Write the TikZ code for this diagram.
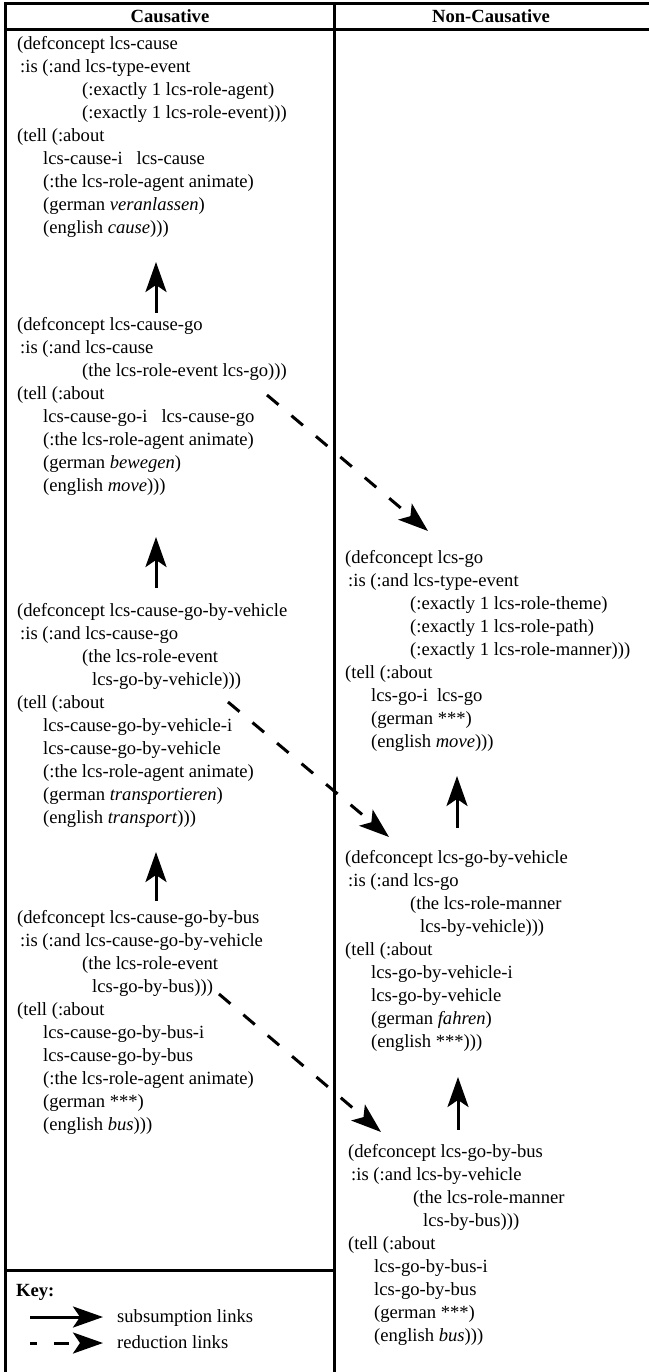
\documentclass[tikz,border=0pt]{standalone}
\usepackage{fontspec}
\setmainfont{Liberation Serif}
\usetikzlibrary{arrows.meta}
\newcommand\IndA{\hspace*{3pt}}
\newcommand\IndB{\hspace*{65pt}}
\newcommand\IndC{\hspace*{75pt}}
\newcommand\IndD{\hspace*{26pt}}
\begin{document}
\begin{tikzpicture}[x=1pt,y=-1pt,
  frame/.style={line width=3pt},
  code/.style={anchor=base west, inner sep=0pt, align=left, font=\fontsize{18.6}{23}\selectfont},
  head/.style={anchor=base, inner sep=0pt, font=\fontsize{18.6}{23}\selectfont\bfseries},
  keytext/.style={anchor=base west, inner sep=0pt, font=\fontsize{18.6}{23}\selectfont},
  sublink/.style={line width=3pt, -{Stealth[length=30pt,width=21pt,inset=7pt]}},
  redlink/.style={line width=3pt, dash pattern=on 15pt off 17pt, -{Stealth[length=30pt,width=21pt,inset=7pt]}}]
\useasboundingbox (0,0) rectangle (649,1372);
% frame
\draw[frame] (649,4) -- (5.5,4) -- (5.5,1372);
\draw[frame] (5.5,30) -- (649,30);
\draw[frame] (334,4) -- (334,1372);
\draw[frame] (5.5,1270) -- (334,1270);
% headers
\node[head] (hc) at (170,23) {Causative};
\node[head] (hn) at (491,23) {Non-Causative};
% left column (anchored at the baseline of the last line)
\node[code] (L1) at (17,234) {(defconcept lcs-cause\\
\IndA:is (:and lcs-type-event\\
\IndB(:exactly 1 lcs-role-agent)\\
\IndB(:exactly 1 lcs-role-event)))\\
(tell (:about\\
\IndD lcs-cause-i\hspace{14pt}lcs-cause\\
\IndD(:the lcs-role-agent animate)\\
\IndD(german \textit{veranlassen})\\
\IndD(english \textit{cause})))};
\node[code] (L2) at (17,491) {(defconcept lcs-cause-go\\
\IndA:is (:and lcs-cause\\
\IndB(the lcs-role-event lcs-go)))\\
(tell (:about\\
\IndD lcs-cause-go-i\hspace{14pt}lcs-cause-go\\
\IndD(:the lcs-role-agent animate)\\
\IndD(german \textit{bewegen})\\
\IndD(english \textit{move})))};
\node[code] (L3) at (17,823) {(defconcept lcs-cause-go-by-vehicle\\
\IndA:is (:and lcs-cause-go\\
\IndB(the lcs-role-event\\
\IndC lcs-go-by-vehicle)))\\
(tell (:about\\
\IndD lcs-cause-go-by-vehicle-i\\
\IndD lcs-cause-go-by-vehicle\\
\IndD(:the lcs-role-agent animate)\\
\IndD(german \textit{transportieren})\\
\IndD(english \textit{transport})))};
\node[code] (L4) at (17,1130) {(defconcept lcs-cause-go-by-bus\\
\IndA:is (:and lcs-cause-go-by-vehicle\\
\IndB(the lcs-role-event\\
\IndC lcs-go-by-bus)))\\
(tell (:about\\
\IndD lcs-cause-go-by-bus-i\\
\IndD lcs-cause-go-by-bus\\
\IndD(:the lcs-role-agent animate)\\
\IndD(german ***)\\
\IndD(english \textit{bus})))};
% right column
\node[code] (R1) at (345,747) {(defconcept lcs-go\\
\IndA:is (:and lcs-type-event\\
\IndB(:exactly 1 lcs-role-theme)\\
\IndB(:exactly 1 lcs-role-path)\\
\IndB(:exactly 1 lcs-role-manner)))\\
(tell (:about\\
\IndD lcs-go-i\hspace{9pt}lcs-go\\
\IndD(german ***)\\
\IndD(english \textit{move})))};
\node[code] (R2) at (345,1047) {(defconcept lcs-go-by-vehicle\\
\IndA:is (:and lcs-go\\
\IndB(the lcs-role-manner\\
\IndC lcs-by-vehicle)))\\
(tell (:about\\
\IndD lcs-go-by-vehicle-i\\
\IndD lcs-go-by-vehicle\\
\IndD(german \textit{fahren})\\
\IndD(english ***)))};
\node[code] (R3) at (348,1341) {(defconcept lcs-go-by-bus\\
\IndA:is (:and lcs-by-vehicle\\
\IndB(the lcs-role-manner\\
\IndC lcs-by-bus)))\\
(tell (:about\\
\IndD lcs-go-by-bus-i\\
\IndD lcs-go-by-bus\\
\IndD(german ***)\\
\IndD(english \textit{bus})))};
% arrow end points
\coordinate (a1s) at (156,313); \coordinate (a1e) at (156,262);
\coordinate (a2s) at (156,588); \coordinate (a2e) at (156,537);
\coordinate (a3s) at (156,901); \coordinate (a3e) at (156,852);
\coordinate (b1s) at (457,828); \coordinate (b1e) at (457,776);
\coordinate (b2s) at (458,1130); \coordinate (b2e) at (458,1077);
\coordinate (d1s) at (267,395); \coordinate (d1e) at (428,531);
\coordinate (d2s) at (228,702); \coordinate (d2e) at (389,837);
\coordinate (d3s) at (219,994); \coordinate (d3e) at (381,1132);
\draw[sublink] (a1s) -- (a1e);
\draw[sublink] (a2s) -- (a2e);
\draw[sublink] (a3s) -- (a3e);
\draw[sublink] (b1s) -- (b1e);
\draw[sublink] (b2s) -- (b2e);
\draw[redlink] (d1s) -- (d1e);
\draw[redlink] (d2s) -- (d2e);
\draw[redlink] (d3s) -- (d3e);
% key
\node[keytext, font=\fontsize{18.6}{23}\selectfont\bfseries] (key) at (16,1296) {Key:};
\coordinate (k1s) at (30,1317); \coordinate (k1e) at (103,1317);
\coordinate (k2s) at (30,1343); \coordinate (k2e) at (103,1343);
\draw[sublink] (k1s) -- (k1e);
\draw[redlink, dash phase=8pt] (k2s) -- (k2e);
\node[keytext] (k1t) at (117,1322) {subsumption links};
\node[keytext] (k2t) at (117,1348) {reduction links};
\end{tikzpicture}
\end{document}
